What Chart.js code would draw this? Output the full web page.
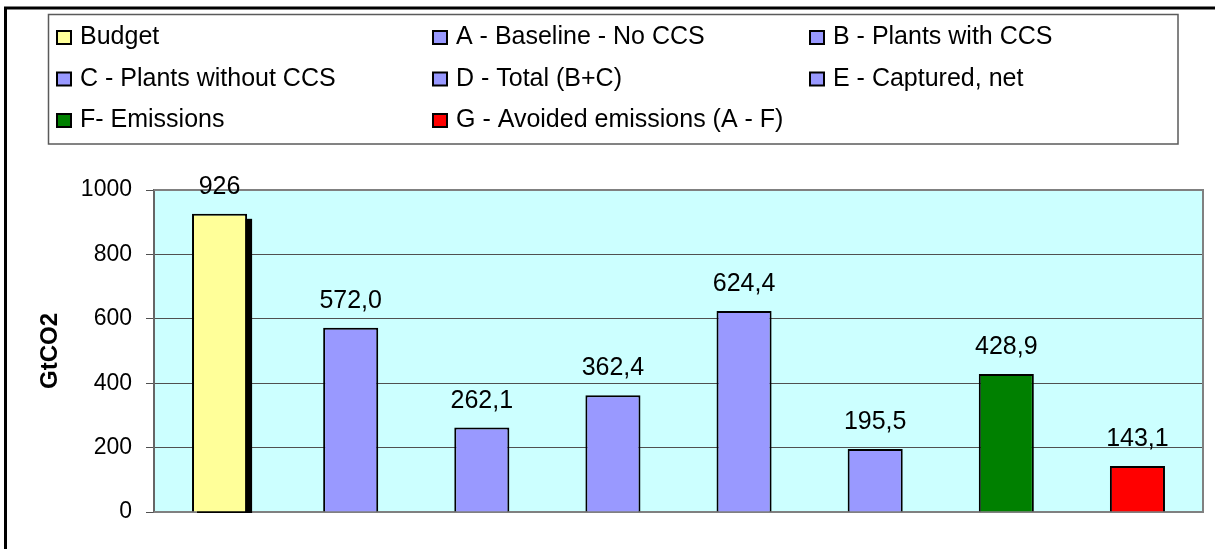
<!DOCTYPE html>
<html>
<head>
<meta charset="utf-8">
<title>GtCO2</title>
<script src="https://cdn.jsdelivr.net/npm/chart.js@4/dist/chart.umd.min.js"></script>
<style>
  html, body { margin: 0; padding: 0; background: #ffffff; }
  #wrap { position: relative; width: 1215px; height: 549px; }
</style>
</head>
<body>
<div id="wrap"><canvas id="c"></canvas></div>
<script>
// Categories (one bar each, also the legend entries)
const categories = [
  'Budget',
  'A - Baseline - No CCS',
  'B - Plants with CCS',
  'C - Plants without CCS',
  'D - Total (B+C)',
  'E - Captured, net',
  'F- Emissions',
  'G - Avoided emissions (A - F)'
];
// Values in GtCO2
const values = [926, 572.0, 262.1, 362.4, 624.4, 195.5, 428.9, 143.1];
// Decimals shown in each value label
const labelDecimals = [0, 1, 1, 1, 1, 1, 1, 1];
// Y axis ticks
const yTicks = [0, 200, 400, 600, 800, 1000];

// Fill colours
const barColors = ['#FFFF99', '#9999FF', '#9999FF', '#9999FF', '#9999FF', '#9999FF', '#008000', '#FF0000'];

const FONT = '"Liberation Sans", Arial, sans-serif';

function fmt(v, d) {
  return v.toFixed(d).replace('.', ',');
}

const frame = {
  id: 'frame',
  beforeDraw(chart) {
    const { ctx, chartArea: a } = chart;
    ctx.save();
    // outer border
    ctx.strokeStyle = '#000000';
    ctx.lineWidth = 3;
    ctx.strokeRect(5.5, 8, 1400, 800);
    // plot background
    ctx.fillStyle = '#CCFFFF';
    ctx.fillRect(a.left, a.top, a.right - a.left, a.bottom - a.top);

    // legend box
    ctx.strokeStyle = '#5a5a5a';
    ctx.lineWidth = 1.5;
    ctx.strokeRect(48.5, 14.5, 1129.5, 129.5);
    const colX = [57, 433, 810];
    const rowY = [44, 85.5, 127];
    ctx.font = '25px ' + FONT;
    ctx.textBaseline = 'alphabetic';
    ctx.textAlign = 'left';
    categories.forEach((name, i) => {
      const x = colX[i % 3];
      const y = rowY[Math.floor(i / 3)];
      ctx.fillStyle = barColors[i];
      ctx.fillRect(x, y - 13, 14, 13);
      ctx.strokeStyle = '#000000';
      ctx.lineWidth = 2;
      ctx.strokeRect(x, y - 13, 14, 13);
      ctx.fillStyle = '#000000';
      ctx.fillText(name, x + 23, y);
    });
    ctx.restore();
  },
  beforeDatasetsDraw(chart) {
    const { ctx, chartArea: a } = chart;
    ctx.save();
    // plot frame (top, right, bottom)
    ctx.strokeStyle = '#808080';
    ctx.lineWidth = 2;
    ctx.beginPath();
    ctx.moveTo(a.left, a.top);
    ctx.lineTo(a.right, a.top);
    ctx.lineTo(a.right, a.bottom);
    ctx.lineTo(a.left, a.bottom);
    ctx.stroke();
    // drop shadow behind the budget bar
    const bar = chart.getDatasetMeta(0).data[0];
    const w = bar.width;
    ctx.fillStyle = '#000000';
    ctx.fillRect(bar.x - w / 2 + 5, bar.y + 5, w, bar.base - bar.y - 3.5);
    ctx.restore();
  },
  afterDatasetsDraw(chart) {
    const { ctx } = chart;
    const meta = chart.getDatasetMeta(0);
    ctx.save();
    ctx.font = '25px ' + FONT;
    ctx.fillStyle = '#000000';
    ctx.textAlign = 'center';
    ctx.textBaseline = 'alphabetic';
    meta.data.forEach((bar, i) => {
      ctx.fillText(fmt(values[i], labelDecimals[i]), bar.x, bar.y - 20);
    });
    ctx.restore();
  }
};

new Chart(document.getElementById('c'), {
  type: 'bar',
  data: {
    labels: categories,
    datasets: [{
      data: values,
      backgroundColor: barColors,
      borderColor: '#000000',
      borderWidth: 2,
      barPercentage: 0.42,
      categoryPercentage: 1.0
    }]
  },
  options: {
    responsive: true,
    maintainAspectRatio: false,
    animation: false,
    layout: { padding: { left: 30, right: 12, top: 190, bottom: 37 } },
    plugins: {
      legend: { display: false },
      tooltip: { enabled: false }
    },
    scales: {
      x: { display: false },
      y: {
        min: yTicks[0],
        max: yTicks[yTicks.length - 1],
        afterFit(scale) { scale.width = 124; },
        afterBuildTicks(scale) { scale.ticks = yTicks.map(v => ({ value: v })); },
        ticks: {
          color: '#000000',
          padding: 14,
          font: { family: FONT, size: 23 },
          callback: (v) => String(v)
        },
        grid: {
          color: '#505050',
          lineWidth: 1,
          tickLength: 8
        },
        border: { display: true, color: '#666666', width: 2 },
        title: {
          display: true,
          text: 'GtCO2',
          color: '#000000',
          padding: { top: 6, bottom: 0 },
          font: { family: FONT, size: 24, weight: 'bold' }
        }
      }
    }
  },
  plugins: [frame]
});
</script>
</body>
</html>
